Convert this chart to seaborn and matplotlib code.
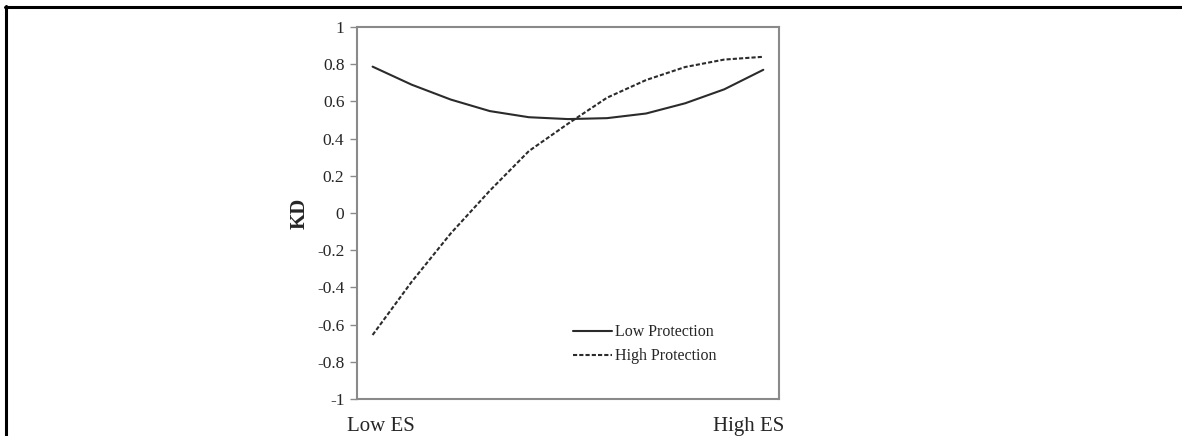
import numpy as np
import pandas as pd
import matplotlib.pyplot as plt
import seaborn as sns
from matplotlib.lines import Line2D

# values
es_level = [0, 1, 2, 3, 4, 5, 6, 7, 8, 9, 10]
kd_low_protection = [0.787, 0.69, 0.61, 0.548, 0.515, 0.505, 0.51, 0.535, 0.59, 0.665, 0.77]
kd_high_protection = [-0.656, -0.37, -0.11, 0.12, 0.333, 0.48, 0.62, 0.715, 0.785, 0.825, 0.84]
series_names = ["Low Protection", "High Protection"]
x_tick_pos = [0.21, 9.63]
x_tick_labels = ["Low ES", "High ES"]
y_ticks = [-1, -0.8, -0.6, -0.4, -0.2, 0, 0.2, 0.4, 0.6, 0.8, 1]
y_tick_labels = ["-1", "-0.8", "-0.6", "-0.4", "-0.2", "0", "0.2", "0.4", "0.6", "0.8", "1"]

df = pd.DataFrame({
    "ES": es_level * 2,
    "KD": kd_low_protection + kd_high_protection,
    "Group": [series_names[0]] * len(es_level) + [series_names[1]] * len(es_level),
})

sns.set_style("white")
plt.rcParams["font.family"] = ["Liberation Serif", "DejaVu Serif"]

fig = plt.figure(figsize=(11.82, 4.36), dpi=100)
ax = fig.add_axes([0.302, 0.085, 0.357, 0.853])

sns.lineplot(data=df, x="ES", y="KD", style="Group", dashes=["", (2, 1)],
             color="#2b2b2b", linewidth=1.5, ax=ax)

ax.set_xlim(-0.4, 10.4)
ax.set_ylim(-1, 1)
ax.set_yticks(y_ticks)
ax.set_yticklabels(y_tick_labels)
ax.set_xticks(x_tick_pos)
ax.set_xticklabels(x_tick_labels, fontsize=15)
ax.tick_params(axis="x", length=0, pad=13)
ax.tick_params(axis="y", left=True, length=5, width=1, color="#8a8a8a",
               labelsize=12.5, pad=4)
ax.set_xlabel("")
ax.set_ylabel("KD", fontsize=15, fontweight="bold")
ax.yaxis.set_label_coords(-0.112, 0.5)

for s in ax.spines.values():
    s.set_color("#8a8a8a")
    s.set_linewidth(1.5)

ax.legend(loc="center left", bbox_to_anchor=(0.511, 0.147), frameon=False,
          fontsize=11.5, handlelength=2.45, handletextpad=0.2, labelspacing=0.5,
          borderpad=0, borderaxespad=0)

# border lines around the picture (left and top only)
fig.add_artist(Line2D([6 / 1182, 6 / 1182], [0, 1 - 6 / 436], color="black", linewidth=2.2,
                      transform=fig.transFigure))
fig.add_artist(Line2D([5 / 1182, 1], [1 - 7 / 436, 1 - 7 / 436], color="black", linewidth=2.2,
                      transform=fig.transFigure))

fig.savefig("out.png", dpi=100)
